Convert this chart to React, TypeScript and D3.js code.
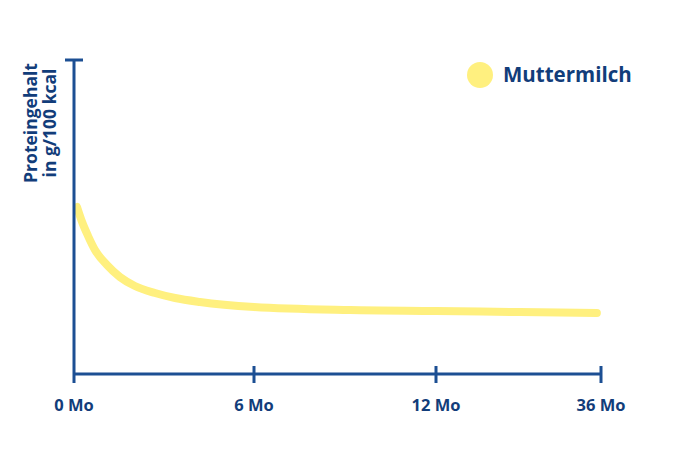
import React from "react";
import * as d3 from "d3";

const months = [0.1, 0.27, 0.47, 0.7, 1.1, 1.53, 2.03, 2.7, 3.37, 4.2, 6, 9.17, 12, 24.2, 35.4];
const protein = [1.596, 1.452, 1.318, 1.185, 1.041, 0.927, 0.841, 0.774, 0.726, 0.688, 0.64, 0.611, 0.602, 0.592, 0.583];
const tickMonths = [0, 6, 12, 36];
const tickLabels = ["0 Mo", "6 Mo", "12 Mo", "36 Mo"];
const seriesName = "Muttermilch";
const yLabelLines = ["Proteingehalt", "in g/100 kcal"];

const W = 680;
const H = 450;
const AXIS = "#1c4f93";
const TEXT = "#123d7a";
const YELLOW = "#fff07f";
const FONT = "'Open Sans', sans-serif";

export default function App() {
  const x = d3.scaleLinear().domain([0, 6, 12, 36]).range([74, 254, 436, 601]);
  const y = d3.scaleLinear().domain([0, 3]).range([374, 60]);
  const line = d3
    .line<number>()
    .x((_, i) => x(months[i]))
    .y((d) => y(d))
    .curve(d3.curveMonotoneX);
  const y0 = y(0);
  return (
    <svg width={W} height={H} style={{ position: "absolute", left: 0, top: 0 }}>
      <rect width={W} height={H} fill="#fff" />
      <path d={line(protein) || ""} fill="none" stroke={YELLOW} strokeWidth={8} strokeLinecap="round" />
      {/* y axis */}
      <line x1={x(0)} x2={x(0)} y1={y(3)} y2={y0 + 9} stroke={AXIS} strokeWidth={3} />
      <line x1={x(0) - 9} x2={x(0) + 9} y1={y(3)} y2={y(3)} stroke={AXIS} strokeWidth={3} />
      {/* x axis */}
      <line x1={x(0)} x2={x(36)} y1={y0} y2={y0} stroke={AXIS} strokeWidth={3} />
      {tickMonths.map((m, i) => (
        <g key={m}>
          {i > 0 && <line x1={x(m)} x2={x(m)} y1={y0 - 8} y2={y0 + 9} stroke={AXIS} strokeWidth={3} />}
          <text x={x(m)} y={411} textAnchor="middle" fontFamily={FONT} fontWeight="bold" fontSize={16.5} fill={TEXT}>
            {tickLabels[i]}
          </text>
        </g>
      ))}
      {yLabelLines.map((t, i) => (
        <text
          key={t}
          transform={`translate(${37 + i * 18.5},123) rotate(-90)`}
          textAnchor="middle"
          fontFamily={FONT}
          fontWeight="bold"
          fontSize={17.5}
          fill={TEXT}
        >
          {t}
        </text>
      ))}
      <circle cx={480} cy={75} r={13} fill={YELLOW} />
      <text x={503} y={82} fontFamily={FONT} fontWeight="bold" fontSize={20.5} fill={TEXT}>
        {seriesName}
      </text>
    </svg>
  );
}
